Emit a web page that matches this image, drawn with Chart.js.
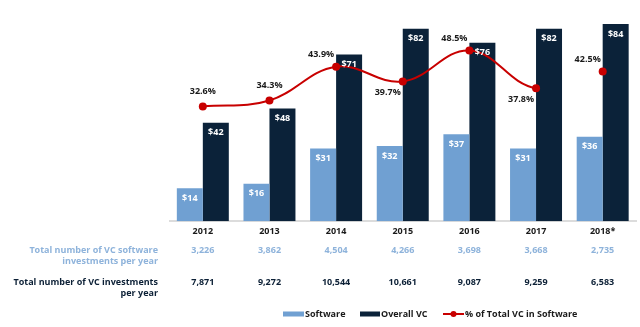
<!DOCTYPE html>
<html>
<head>
<meta charset="utf-8">
<script src="https://cdn.jsdelivr.net/npm/chart.js@4/dist/chart.umd.min.js"></script>
<style>
  html, body { margin: 0; padding: 0; background: #fff; }
  #wrap { width: 640px; height: 327px; position: relative; }
</style>
</head>
<body>
<div id="wrap"><canvas id="vcChart"></canvas></div>
<script>
const years = ['2012', '2013', '2014', '2015', '2016', '2017', '2018*'];
const softwareVC = [14, 16, 31, 32, 37, 31, 36];       // $B
const overallVC = [42, 48, 71, 82, 76, 82, 84];         // $B
const pctSoftware = [32.6, 34.3, 43.9, 39.7, 48.5, 37.8, 42.5];
const softwareDeals = ['3,226', '3,862', '4,504', '4,266', '3,698', '3,668', '2,735'];
const totalDeals = ['7,871', '9,272', '10,544', '10,661', '9,087', '9,259', '6,583'];

// where each % label sits relative to its point
const pctPlacement = ['up', 'up', 'upLeft', 'downLeft', 'upLeft', 'downLeft', 'upLeft'];

const colors = {
  software: '#70a0d2',
  overall: '#0b2239',
  line: '#c80000',
  rowLight: '#8eb3db',
  text: '#1a1a1a',
  navyText: '#0c2036'
};
const FONT = '"Open Sans", sans-serif';

// white $ labels inside the top of each bar + % labels near the line points
const labelsPlugin = {
  id: 'labels',
  afterDatasetsDraw(chart) {
    const ctx = chart.ctx;
    ctx.save();
    ctx.font = 'bold 9px ' + FONT;
    ctx.textAlign = 'center';
    ctx.textBaseline = 'middle';
    ctx.fillStyle = '#fff';
    [0, 1].forEach(i => {
      chart.getDatasetMeta(i).data.forEach((el, j) => {
        ctx.fillText('$' + chart.data.datasets[i].data[j], el.x, el.y + 10);
      });
    });
    ctx.fillStyle = colors.text;
    chart.getDatasetMeta(2).data.forEach((pt, j) => {
      let dx = 0, dy = -15;
      if (pctPlacement[j] === 'upLeft') { dx = -15; dy = -12; }
      if (pctPlacement[j] === 'downLeft') { dx = -15; dy = 11; }
      ctx.fillText(pctSoftware[j].toFixed(1) + '%', pt.x + dx, pt.y + dy);
    });
    ctx.restore();
  }
};

// data table under the axis and the legend at the bottom
const tablePlugin = {
  id: 'table',
  afterDraw(chart) {
    const ctx = chart.ctx;
    const x = chart.scales.x;
    ctx.save();
    ctx.font = 'bold 9px ' + FONT;
    ctx.textBaseline = 'middle';

    ctx.textAlign = 'right';
    ctx.fillStyle = colors.rowLight;
    ctx.fillText('Total number of VC software', 158, 250);
    ctx.fillText('investments per year', 158, 261);
    ctx.fillStyle = colors.navyText;
    ctx.fillText('Total number of VC investments', 158, 282);
    ctx.fillText('per year', 158, 293);

    ctx.textAlign = 'center';
    years.forEach((y, i) => {
      const px = x.getPixelForValue(i);
      ctx.fillStyle = colors.rowLight;
      ctx.fillText(softwareDeals[i], px, 250);
      ctx.fillStyle = colors.navyText;
      ctx.fillText(totalDeals[i], px, 282);
    });

    // legend
    const ly = 314;
    ctx.textAlign = 'left';
    ctx.fillStyle = colors.software;
    ctx.fillRect(283, ly - 2.5, 21, 5);
    ctx.fillStyle = colors.text;
    ctx.fillText('Software', 305, ly);
    ctx.fillStyle = colors.overall;
    ctx.fillRect(360, ly - 2.5, 20, 5);
    ctx.fillStyle = colors.text;
    ctx.fillText('Overall VC', 381, ly);
    ctx.strokeStyle = colors.line;
    ctx.lineWidth = 2;
    ctx.beginPath();
    ctx.moveTo(443, ly);
    ctx.lineTo(464, ly);
    ctx.stroke();
    ctx.fillStyle = colors.line;
    ctx.beginPath();
    ctx.arc(453.5, ly, 3, 0, Math.PI * 2);
    ctx.fill();
    ctx.fillStyle = colors.text;
    ctx.fillText('% of Total VC in Software', 465, ly);
    ctx.restore();
  }
};

new Chart(document.getElementById('vcChart'), {
  type: 'bar',
  data: {
    labels: years,
    datasets: [
      {
        label: 'Software',
        data: softwareVC,
        backgroundColor: colors.software,
        yAxisID: 'y',
        order: 2,
        categoryPercentage: 0.78,
        barPercentage: 1
      },
      {
        label: 'Overall VC',
        data: overallVC,
        backgroundColor: colors.overall,
        yAxisID: 'y',
        order: 2,
        categoryPercentage: 0.78,
        barPercentage: 1
      },
      {
        type: 'line',
        label: '% of Total VC in Software',
        data: pctSoftware,
        yAxisID: 'y2',
        order: 0,
        borderColor: colors.line,
        backgroundColor: colors.line,
        borderWidth: 2,
        pointRadius: 4,
        pointBorderWidth: 0,
        tension: 0.4,
        segment: {
          // 2018 is a partial year, not joined to the line
          borderColor: c => c.p1DataIndex === 6 ? 'rgba(0,0,0,0)' : colors.line
        }
      }
    ]
  },
  options: {
    responsive: true,
    maintainAspectRatio: false,
    animation: false,
    events: [],
    layout: { padding: { left: 169.5, right: 1, top: 10, bottom: 85 } },
    plugins: {
      legend: { display: false },
      tooltip: { enabled: false }
    },
    scales: {
      x: {
        grid: { display: false, drawTicks: false },
        border: { display: true, color: '#dcdcdc', width: 2 },
        ticks: {
          color: colors.text,
          font: { family: FONT, size: 9, weight: 'bold' },
          padding: 5
        }
      },
      y: { display: false, min: 0, max: 90 },
      y2: { display: false, min: 0, max: 60, position: 'right' }
    }
  },
  plugins: [labelsPlugin, tablePlugin]
});
</script>
</body>
</html>
